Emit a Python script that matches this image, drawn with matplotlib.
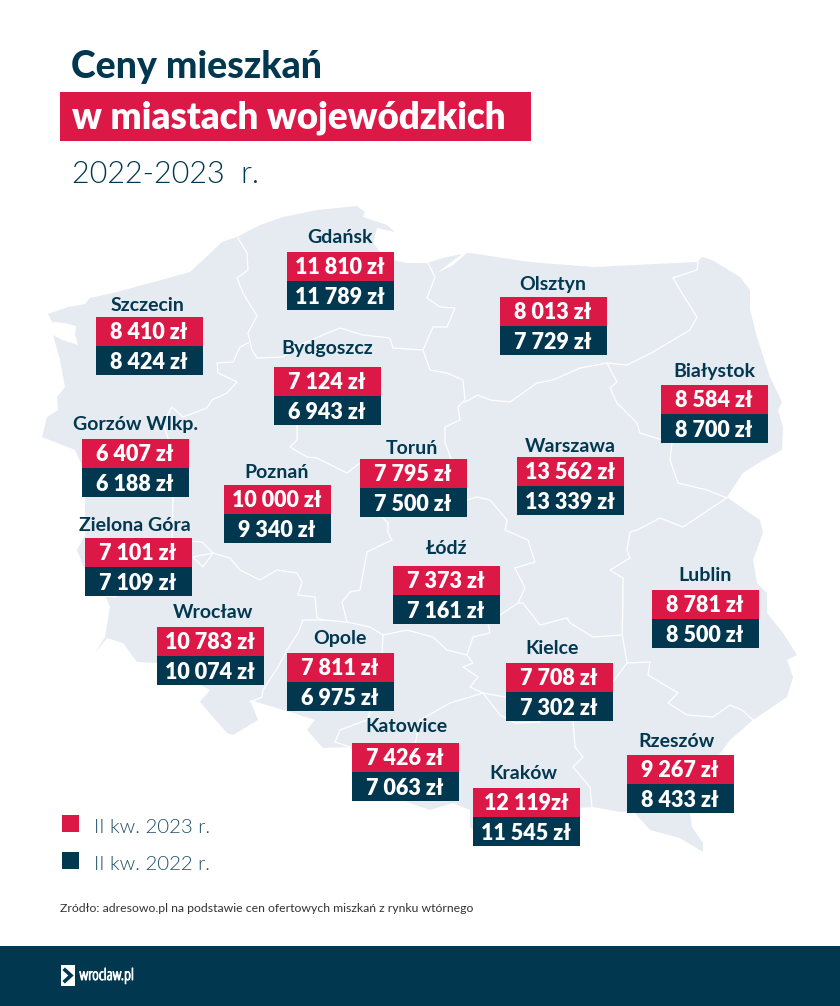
import matplotlib
matplotlib.use('Agg')
import matplotlib.pyplot as plt
import matplotlib.patheffects as pe
from matplotlib.patches import Polygon, Rectangle

cities = ['Gdańsk', 'Szczecin', 'Olsztyn', 'Bydgoszcz', 'Białystok', 'Gorzów Wlkp.', 'Toruń', 'Warszawa', 'Poznań',
          'Zielona Góra', 'Łódź', 'Lublin', 'Wrocław', 'Opole', 'Kielce', 'Katowice', 'Rzeszów', 'Kraków']
prices_2023 = ['11 810 zł', '8 410 zł', '8 013 zł', '7 124 zł', '8 584 zł', '6 407 zł', '7 795 zł', '13 562 zł', '10 000 zł',
               '7 101 zł', '7 373 zł', '8 781 zł', '10 783 zł', '7 811 zł', '7 708 zł', '7 426 zł', '9 267 zł', '12 119zł']
prices_2022 = ['11 789 zł', '8 424 zł', '7 729 zł', '6 943 zł', '8 700 zł', '6 188 zł', '7 500 zł', '13 339 zł', '9 340 zł',
               '7 109 zł', '7 161 zł', '8 500 zł', '10 074 zł', '6 975 zł', '7 302 zł', '7 063 zł', '8 433 zł', '11 545 zł']
legend_labels = ['II kw. 2023 r.', 'II kw. 2022 r.']

# top left corner of each city box, in pixels
box_left = [287, 96, 500, 274, 661, 82, 360, 517, 224, 85, 393, 652, 157, 287, 506, 352, 627, 473]
box_top = [252, 317, 297, 367, 385, 439, 459, 457, 485, 538, 566, 590, 627, 653, 663, 743, 755, 788]
# city names sit at their own place above the boxes
label_x = [340, 148, 553, 327, 714, 136, 412, 570, 277, 134.5, 447, 705, 213, 340, 552, 406, 676, 523]
label_base = [243, 311, 290, 354, 377, 430, 454, 452, 478, 531, 554, 581, 618, 644, 654, 732, 747, 779]

RED = '#dc1846'
NAVY = '#02384f'
MAP = '#e6eaf1'
FONT = 'Lato'

outline = [(48, 314), (68, 307), (85, 304), (90, 298), (117, 292), (190, 272), (205, 258), (222, 242), (237, 237), (260, 225),
           (283, 217), (317, 210), (357, 206), (365, 212), (363, 217), (387, 225), (395, 232), (377, 228), (373, 243),
           (385, 258), (393, 260), (407, 263), (427, 263), (443, 258), (462, 254), (437, 273), (453, 265), (467, 253),
           (470, 253), (530, 262), (593, 267), (697, 262), (702, 257), (712, 260), (740, 277), (750, 290), (750, 310),
           (757, 337), (770, 377), (782, 402), (778, 410), (783, 427), (782, 450), (760, 462), (743, 473), (727, 497),
           (745, 510), (760, 520), (763, 533), (753, 560), (757, 583), (767, 593), (767, 613), (783, 633), (797, 655),
           (787, 660), (793, 677), (787, 697), (753, 720), (730, 740), (713, 763), (695, 800), (690, 813), (692, 827),
           (703, 843), (703, 852), (680, 838), (650, 830), (634, 812), (620, 812), (593, 807), (579, 808), (560, 830),
           (520, 845), (490, 835), (470, 828), (470, 810), (453, 803), (430, 810), (410, 803), (385, 795), (350, 747),
           (323, 748), (307, 730), (315, 720), (290, 712), (250, 700), (258, 720), (233, 735), (227, 733), (213, 717),
           (200, 702), (210, 690), (157, 663), (137, 662), (123, 643), (107, 638), (95, 653), (105, 637), (110, 607),
           (105, 595), (85, 570), (77, 550), (85, 535), (85, 497), (84, 470), (75, 450), (42, 437), (47, 417), (58, 410),
           (57, 397), (65, 387), (60, 360), (53, 335), (62, 340), (78, 345), (75, 335), (76, 326), (65, 323), (52, 322)]

# white borders between the voivodeships
borders = [
    [(238, 238), (247, 253), (248, 270), (237, 278), (243, 293), (257, 316), (248, 333), (252, 350), (257, 358), (283, 357),
     (300, 345), (323, 335), (340, 328), (363, 335), (390, 338), (393, 348), (423, 350), (433, 327), (447, 327), (455, 308),
     (440, 307), (427, 298), (435, 277), (428, 263)],
    [(248, 343), (240, 347), (233, 362), (217, 363), (218, 373), (237, 382), (227, 393), (212, 400), (207, 408), (183, 417),
     (172, 407), (163, 423), (175, 460), (173, 497), (172, 540), (202, 542), (213, 553), (203, 567), (193, 557), (213, 553),
     (230, 558), (240, 570), (260, 580), (277, 570), (297, 573), (302, 582), (298, 595), (315, 597), (317, 618), (323, 620)],
    [(105, 596), (115, 597), (125, 590)],
    [(297, 423), (297, 440), (290, 447), (307, 457), (317, 458), (347, 473), (360, 463), (365, 500), (388, 523), (388, 533),
     (392, 540), (367, 552), (360, 590), (350, 592), (342, 602), (347, 622), (370, 627), (383, 635), (407, 630), (433, 637),
     (447, 650), (467, 655), (473, 637), (490, 633), (488, 623), (518, 603), (525, 588), (515, 568), (535, 562), (528, 540),
     (505, 530), (507, 520), (490, 500), (477, 497), (467, 500), (445, 443), (445, 427), (460, 420), (458, 407), (465, 400),
     (463, 380), (447, 373), (430, 370), (423, 350)],
    [(465, 402), (478, 395), (490, 400), (510, 402), (537, 383), (553, 380), (580, 368), (607, 363), (627, 365), (653, 352),
     (690, 330), (697, 317), (680, 290), (673, 278), (697, 270), (698, 262)],
    [(607, 363), (617, 382), (610, 388), (617, 403), (637, 423), (640, 433), (672, 443), (670, 460), (678, 483), (707, 490),
     (727, 498), (713, 507), (683, 527), (660, 518), (637, 530), (630, 532), (627, 550), (630, 558), (610, 570), (623, 578),
     (623, 603), (622, 633), (627, 663), (650, 662), (648, 675), (678, 693), (668, 703), (687, 715), (713, 717), (730, 705),
     (742, 710), (753, 720)],
    [(622, 635), (593, 637), (570, 623), (567, 618), (540, 625), (523, 603), (518, 603)],
    [(627, 663), (612, 683), (590, 695), (573, 720), (575, 747), (583, 757), (573, 767), (590, 787), (592, 807)],
    [(346, 622), (323, 620), (303, 620), (298, 633), (287, 650), (278, 667), (263, 690), (262, 697), (250, 702)],
    [(467, 655), (473, 663), (463, 667), (478, 677), (470, 687), (483, 693), (505, 697), (540, 722), (515, 723), (500, 715), (483, 693)],
    [(483, 693), (450, 703), (420, 720), (415, 745)],
    [(383, 635), (382, 653), (375, 700), (367, 720), (340, 730), (335, 742), (350, 747)],
]

fig = plt.figure(figsize=(8.4, 10.06), dpi=100)
ax = fig.add_axes([0, 0, 1, 1])
ax.set_xlim(0, 840)
ax.set_ylim(1006, 0)
ax.axis('off')

ax.add_patch(Polygon(outline, closed=True, facecolor=MAP, edgecolor='none', zorder=1))
for line in borders:
    ax.plot([p[0] for p in line], [p[1] for p in line], color='white', lw=0.9, zorder=2)

# title block
ax.text(71, 78, 'Ceny mieszkań', color=NAVY, fontsize=27, fontweight=900, family=FONT, va='baseline', ha='left')
ax.add_patch(Rectangle((60, 92), 471, 49, facecolor=RED, edgecolor='none'))
ax.text(72, 128, 'w miastach wojewódzkich', color='white', fontsize=26.4, fontweight=800, family=FONT, va='baseline', ha='left')
ax.text(72, 183, '2022-2023  r.', color=NAVY, fontsize=22, fontweight=300, family=FONT, va='baseline', ha='left')

# city boxes
for i in range(len(cities)):
    x = box_left[i]
    y = box_top[i]
    ax.add_patch(Rectangle((x, y), 106.5, 29, facecolor=RED, edgecolor='none', zorder=3))
    ax.add_patch(Rectangle((x, y + 29), 106.5, 28.5, facecolor=NAVY, edgecolor='none', zorder=3))
    ax.text(label_x[i], label_base[i], cities[i], color=NAVY, fontsize=14, fontweight=700, family=FONT, ha='center', va='baseline', zorder=4)
    ax.text(x + 53, y + 22, prices_2023[i], color='white', fontsize=15.5, fontweight=800, family=FONT, ha='center', va='baseline', zorder=4)
    ax.text(x + 53, y + 52, prices_2022[i], color='white', fontsize=15.5, fontweight=800, family=FONT, ha='center', va='baseline', zorder=4)

# legend
for i, col in enumerate([RED, NAVY]):
    ax.add_patch(Rectangle((62, 815 + i * 37), 17, 17, facecolor=col, edgecolor='none'))
    ax.text(94, 833 + i * 37, legend_labels[i], color='#1f4f66', fontsize=14.7, fontweight=300, family=FONT, va='baseline', ha='left')

ax.text(60, 912.5, 'Zródło: adresowo.pl na podstawie cen ofertowych miszkań z rynku wtórnego', color='#333333', fontsize=8.8,
        family=FONT, va='baseline', ha='left')

# footer with the logo
ax.add_patch(Rectangle((0, 946), 840, 60, facecolor=NAVY, edgecolor='none'))
ax.add_patch(Rectangle((61, 965), 14, 21, facecolor='white', edgecolor='none'))
ax.plot([65, 71, 65], [970, 975.5, 981], color=NAVY, lw=2.6, solid_joinstyle='miter')
logo = ax.text(79.5, 980, 'wroclaw.pl', color='white', fontsize=11.4, fontweight=300, stretch='condensed', family='Open Sans',
               va='baseline', ha='left')
logo.set_path_effects([pe.withStroke(linewidth=0.7, foreground='white')])

fig.savefig('out.png', dpi=100)
